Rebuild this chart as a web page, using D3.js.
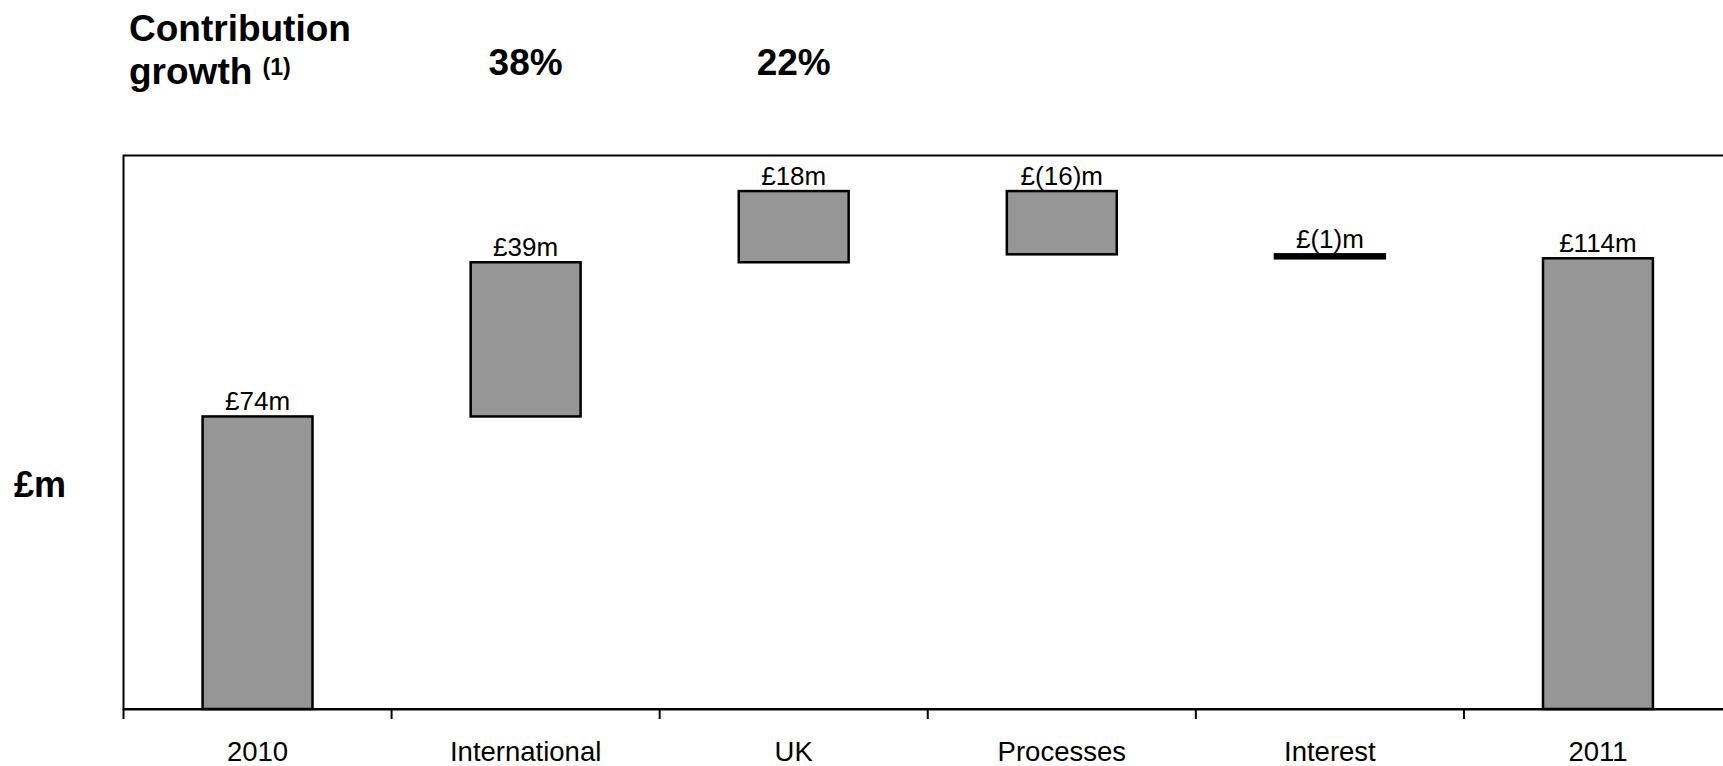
<!DOCTYPE html>
<html>
<head>
<meta charset="utf-8">
<script src="https://cdn.jsdelivr.net/npm/d3@7"></script>
<style>
  html, body { margin: 0; padding: 0; background: #fff; }
  svg { display: block; font-family: "Liberation Sans", Arial, sans-serif; }
</style>
</head>
<body>
<svg id="chart" width="1723" height="766"></svg>
<script>
// Waterfall of contribution, 2010 to 2011 (£m)
const categories = ["2010", "International", "UK", "Processes", "Interest", "2011"];
const changes = [74, 39, 18, -16, -1, 114];           // first and last are totals
const isTotal = [true, false, false, false, false, true];
const valueLabels = ["£74m", "£39m", "£18m", "£(16)m", "£(1)m", "£114m"];
const growthLabels = ["", "38%", "22%", "", "", ""];
const yDomain = [0, 140];

(function () {
  // running start/end of each bar
  let running = 0;
  const bars = categories.map((c, i) => {
    let lo, hi;
    if (isTotal[i]) {
      lo = 0; hi = changes[i]; running = changes[i];
    } else {
      const start = running, end = running + changes[i];
      lo = Math.min(start, end); hi = Math.max(start, end); running = end;
    }
    return { cat: c, lo, hi, label: valueLabels[i], growth: growthLabels[i] };
  });

  const svg = d3.select("#chart");
  const plotLeft = 123.5, plotRight = 1732, plotTop = 155.5, plotBottom = 709;

  const x = d3.scaleBand().domain(categories).range([plotLeft, plotRight]).padding(0);
  const y = d3.scaleLinear().domain(yDomain).range([plotBottom, plotTop]);
  const barW = x.bandwidth() * 0.41;
  const outline = 2.5;

  // plot frame
  svg.append("rect")
    .attr("x", plotLeft).attr("y", plotTop)
    .attr("width", plotRight - plotLeft).attr("height", plotBottom - plotTop)
    .attr("fill", "none").attr("stroke", "#000").attr("stroke-width", 2);

  // bars (a bar thinner than its outline is drawn as a solid line)
  svg.append("g").selectAll("rect").data(bars).join("rect")
    .attr("x", d => x(d.cat) + (x.bandwidth() - barW) / 2)
    .attr("y", d => y(d.hi))
    .attr("width", barW)
    .attr("height", d => y(d.lo) - y(d.hi))
    .attr("fill", d => (y(d.lo) - y(d.hi) < 2 * outline ? "#000" : "#969696"))
    .attr("stroke", "#000")
    .attr("stroke-width", outline);

  // value labels above bars
  svg.append("g").selectAll("text").data(bars).join("text")
    .attr("x", d => x(d.cat) + x.bandwidth() / 2)
    .attr("y", d => y(d.hi) - 6)
    .attr("text-anchor", "middle")
    .attr("font-size", 26)
    .attr("fill", "#000")
    .text(d => d.label);

  // x axis: labels at band centres, ticks at band boundaries
  const axis = svg.append("g")
    .attr("transform", `translate(0,${plotBottom})`)
    .call(d3.axisBottom(x).tickSize(0).tickSizeOuter(0).tickPadding(52));
  axis.select(".domain").attr("stroke", "#000").attr("stroke-width", 2);
  axis.selectAll("text")
    .attr("font-size", 27.5)
    .attr("font-family", "Liberation Sans, Arial, sans-serif")
    .attr("fill", "#000")
    .attr("dy", 0);
  svg.append("g").selectAll("line").data(categories).join("line")
    .attr("x1", d => x(d)).attr("x2", d => x(d))
    .attr("y1", plotBottom).attr("y2", plotBottom + 10)
    .attr("stroke", "#000").attr("stroke-width", 2);

  // y axis title
  svg.append("text")
    .attr("x", 14).attr("y", 497)
    .attr("font-size", 36).attr("font-weight", "bold")
    .text("£m");

  // growth row header
  const head = svg.append("text")
    .attr("x", 129).attr("y", 41)
    .attr("font-size", 37).attr("font-weight", "bold");
  head.append("tspan").text("Contribution");
  head.append("tspan").attr("x", 129).attr("y", 84).text("growth ");
  head.append("tspan").attr("font-size", 23).attr("dy", -9).text("(1)");

  // growth percentages above their categories
  svg.append("g").selectAll("text").data(bars.filter(d => d.growth)).join("text")
    .attr("x", d => x(d.cat) + x.bandwidth() / 2)
    .attr("y", 75)
    .attr("text-anchor", "middle")
    .attr("font-size", 37).attr("font-weight", "bold")
    .text(d => d.growth);
})();
</script>
</body>
</html>
